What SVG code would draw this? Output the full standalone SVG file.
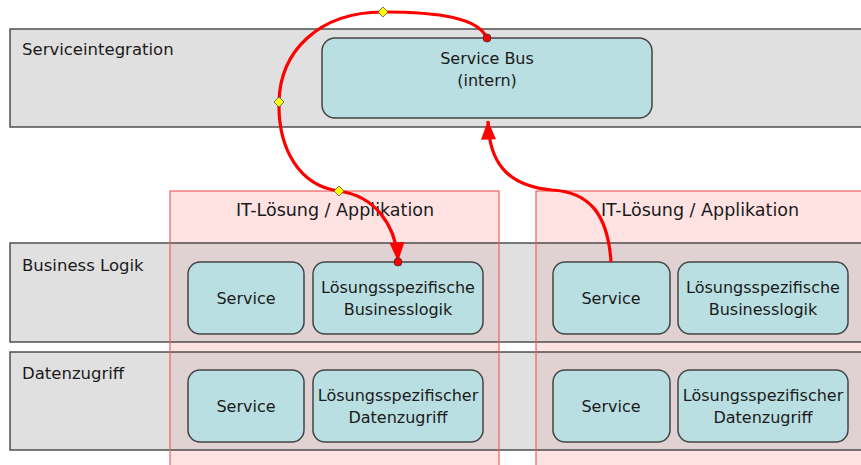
<svg xmlns="http://www.w3.org/2000/svg" width="861" height="465" viewBox="0 0 861 465">
<defs>
<style>
.pink{fill:#ffe3e3;stroke:none}
.pinkline{fill:none;stroke:#f06060;stroke-width:1.2}
.band{fill:#c2c2c2;fill-opacity:0.5;stroke:#444;stroke-width:1.4}
.node{fill:#b9dfe2;stroke:#444;stroke-width:1.5}
.lbl{font-family:"DejaVu Sans",sans-serif;font-size:16.5px;fill:#1a1a1a}
.nt{font-family:"DejaVu Sans",sans-serif;font-size:16px;fill:#1a1a1a;text-anchor:middle}
.it{font-family:"DejaVu Sans",sans-serif;font-size:17.5px;fill:#1a1a1a;text-anchor:middle}
.conn{fill:none;stroke:#ff0000;stroke-width:3.2}
.dia{fill:#ffff00;stroke:#555;stroke-width:0.8}
.dot{fill:#ff0000;stroke:#333;stroke-width:0.8}
</style>
<marker id="arr" markerWidth="20" markerHeight="16" refX="18.5" refY="8" orient="auto" markerUnits="userSpaceOnUse" overflow="visible">
<path d="M0,0.5 L19,8 L0,15.5 Z" fill="#ff0000"/>
</marker>
</defs>
<rect width="861" height="465" fill="#ffffff"/>
<g id="lanes">
<rect class="pink" x="170" y="191" width="329" height="280"/>
<rect class="pink" x="536" y="191" width="330" height="280"/>
<g id="band-serviceintegration">
<rect class="band" x="10" y="29" width="870" height="98"/>
<text class="lbl" x="22" y="55">Serviceintegration</text>
</g>
<g id="band-business">
<rect class="band" x="10" y="243" width="870" height="99"/>
<text class="lbl" x="22" y="271">Business Logik</text>
</g>
<g id="band-daten">
<rect class="band" x="10" y="352" width="870" height="98"/>
<text class="lbl" x="22" y="379">Datenzugriff</text>
</g>
<g id="app1">
<rect class="pinkline" x="170" y="191" width="329" height="280"/>
<text class="it" x="335" y="216">IT-Lösung / Applikation</text>
</g>
<g id="app2">
<rect class="pinkline" x="536" y="191" width="330" height="280"/>
<text class="it" x="700" y="216">IT-Lösung / Applikation</text>
</g>
</g>
<g id="servicebus">
<rect class="node" x="322" y="38" width="330" height="80" rx="13"/>
<text class="nt" x="487" y="64">Service Bus</text>
<text class="nt" x="487" y="86">(intern)</text>
</g>
<g id="service-bl-1">
<rect class="node" x="188" y="262" width="116" height="72" rx="12"/>
<text class="nt" x="246" y="304">Service</text>
</g>
<g id="logik-1">
<rect class="node" x="313" y="262" width="170" height="72" rx="12"/>
<text class="nt" x="398" y="293">Lösungsspezifische</text>
<text class="nt" x="398" y="315">Businesslogik</text>
</g>
<g id="service-bl-2">
<rect class="node" x="553" y="262" width="117" height="72" rx="12"/>
<text class="nt" x="611" y="304">Service</text>
</g>
<g id="logik-2">
<rect class="node" x="678" y="262" width="170" height="72" rx="12"/>
<text class="nt" x="763" y="293">Lösungsspezifische</text>
<text class="nt" x="763" y="315">Businesslogik</text>
</g>
<g id="service-dz-1">
<rect class="node" x="188" y="370" width="116" height="72" rx="12"/>
<text class="nt" x="246" y="412">Service</text>
</g>
<g id="daten-1">
<rect class="node" x="313" y="370" width="170" height="72" rx="12"/>
<text class="nt" x="398" y="401">Lösungsspezifischer</text>
<text class="nt" x="398" y="423">Datenzugriff</text>
</g>
<g id="service-dz-2">
<rect class="node" x="553" y="370" width="117" height="72" rx="12"/>
<text class="nt" x="611" y="412">Service</text>
</g>
<g id="daten-2">
<rect class="node" x="678" y="370" width="170" height="72" rx="12"/>
<text class="nt" x="763" y="401">Lösungsspezifischer</text>
<text class="nt" x="763" y="423">Datenzugriff</text>
</g>
<g id="connectors">
<path class="conn" d="M487,38 C478,18 440,12 383,12 C318,12 280,52 279,102 C278,150 300,186 339,191 C375,196 396,225 398,261" marker-end="url(#arr)"/>
<path class="conn" d="M611,262 C608,215 590,192 552,190 C505,186 489,160 488,121" marker-end="url(#arr)"/>
<circle class="dot" cx="487" cy="38" r="4"/>
<circle class="dot" cx="398" cy="262" r="4"/>
<path class="dia" d="M383,7 L388,12 L383,17 L378,12 Z"/>
<path class="dia" d="M279,97 L284,102 L279,107 L274,102 Z"/>
<path class="dia" d="M339,186 L344,191 L339,196 L334,191 Z"/>
</g>
</svg>
